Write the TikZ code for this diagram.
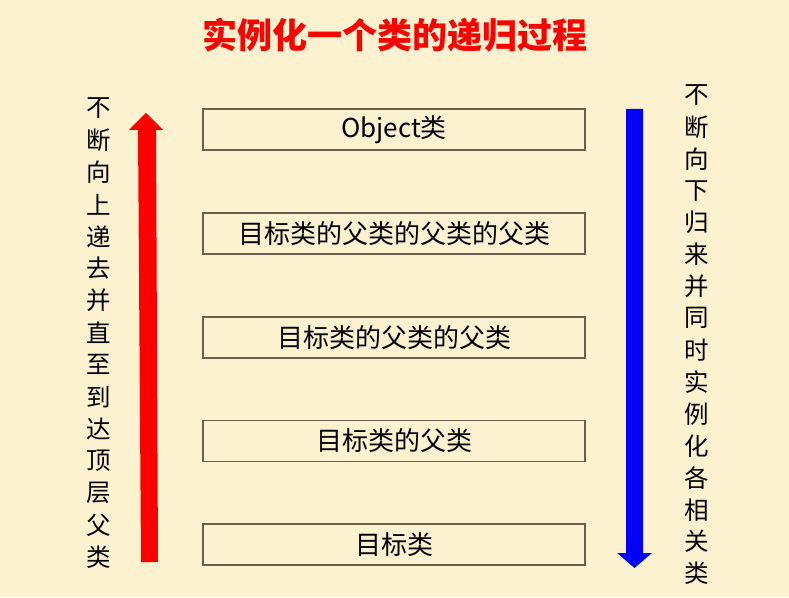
\documentclass[tikz,border=0pt]{standalone}
\usepackage{fontspec}
\newfontfamily\cjk{Noto Sans CJK SC}
\usetikzlibrary{positioning}
\definecolor{bgc}{RGB}{252,242,208}
\definecolor{boxline}{RGB}{105,95,75}
\definecolor{redarrow}{RGB}{255,0,0}
\definecolor{bluearrow}{RGB}{0,0,255}
\tikzset{
  classbox/.style={draw=boxline, line width=1.3pt, fill=bgc, minimum width=382pt, minimum height=41pt, inner sep=0pt, font=\cjk\fontsize{26}{30}\selectfont, text=black},
  vchar/.style={inner sep=0pt, font=\cjk\fontsize{24.5}{28}\selectfont, text=black},
  titletext/.style={inner sep=0pt, font=\cjk\bfseries\fontsize{35}{40}\selectfont, text=redarrow}
}
\begin{document}
\begin{tikzpicture}[x=1pt,y=1pt]
\fill[bgc] (0,0) rectangle (789,597);
\useasboundingbox (0,0) rectangle (789,597);
\node[titletext] (title) at (395,562) {实例化一个类的递归过程};
\node[classbox] (b1) at (394,467.5) {Object类};
\node[classbox] (b2) at (394,363.5) {目标类的父类的父类的父类};
\node[classbox] (b3) at (394,259.5) {目标类的父类的父类};
\node[classbox] (b4) at (394,156) {目标类的父类};
\node[classbox] (b5) at (394,52.5) {目标类};
% red arrow (up)
\fill[redarrow] (141,35) -- (158,35) -- (156,467) -- (163,467) -- (146,484) -- (129,467) -- (138,467) -- cycle;
% blue arrow (down)
\fill[bluearrow] (626,488) -- (643,488) -- (643,44) -- (652,44) -- (634.5,29) -- (617,44) -- (626,44) -- cycle;
% left vertical text
\foreach \c [count=\i from 0] in {不,断,向,上,递,去,并,直,至,到,达,顶,层,父,类}{
  \node[vchar] (l\i) at (99,{489-32.1*\i}) {\c};
}
% right vertical text
\foreach \c [count=\i from 0] in {不,断,向,下,归,来,并,同,时,实,例,化,各,相,关,类}{
  \node[vchar] (r\i) at (697,{502-31.9*\i}) {\c};
}
\end{tikzpicture}
\end{document}
